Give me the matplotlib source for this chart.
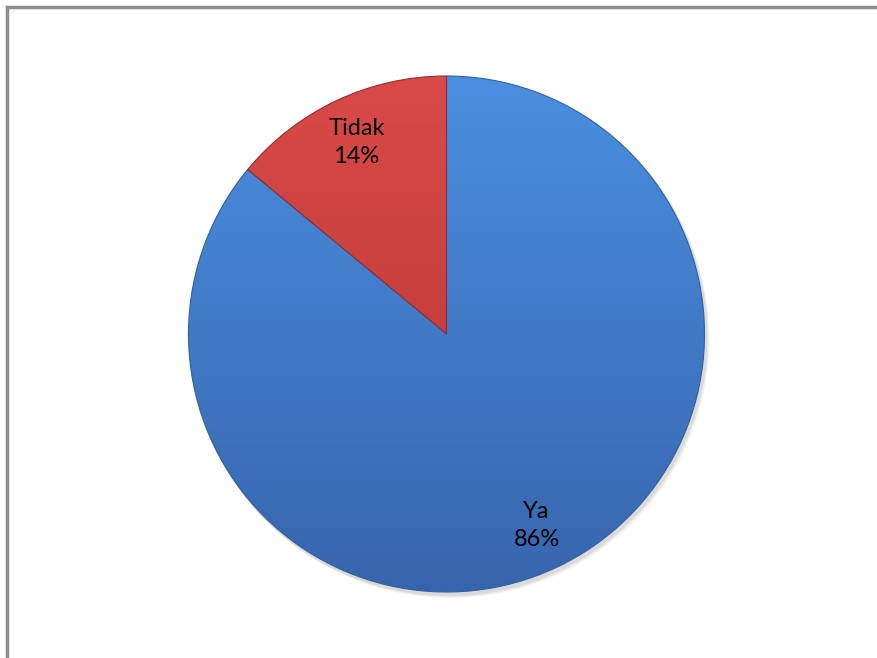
import numpy as np
import matplotlib
matplotlib.use('Agg')
import matplotlib.pyplot as plt
from matplotlib.patches import Circle, Rectangle
from matplotlib.colors import LinearSegmentedColormap

# survey answers
categories = ['Ya', 'Tidak']
values = [86, 14]

# top/bottom tones for each slice's gradient
slice_tops = ['#4a8fe0', '#d94a48']
slice_bottoms = ['#3765ad', '#b23432']
edge_colors = ['#30609f', '#9a2c2a']

W, H = 877, 658
fig = plt.figure(figsize=(W / 100, H / 100), dpi=100)
ax = fig.add_axes([0, 0, 1, 1])

cx, cy, r = 446.5, H - 334, 258

# soft shadow under the pie
for i, a in enumerate([0.06, 0.05, 0.04]):
    ax.add_patch(Circle((cx + 2 + i, cy - 3 - i), r + 1, color='black',
                        alpha=a, lw=0, zorder=1))

wedges, _ = ax.pie(values, startangle=90, counterclock=False,
                   center=(cx, cy), radius=r, frame=True,
                   wedgeprops=dict(linewidth=0.8))
ax.set_xlim(0, W)
ax.set_ylim(0, H)
ax.set_aspect('equal')
ax.axis('off')

grad = np.linspace(0, 1, 256).reshape(-1, 1)
for w, top, bot, ec in zip(wedges, slice_tops, slice_bottoms, edge_colors):
    w.set_facecolor('none')
    w.set_edgecolor(ec)
    w.set_zorder(3)
    cmap = LinearSegmentedColormap.from_list('g', [bot, top])
    im = ax.imshow(grad, cmap=cmap, extent=[cx - r, cx + r, cy - r, cy + r],
                   aspect='auto', origin='lower', zorder=2)
    im.set_clip_path(w)

# labels inside the slices
total = sum(values)
angle = 90
for name, v in zip(categories, values):
    span = 360 * v / total
    mid = np.deg2rad(angle - span / 2)
    angle -= span
    d = 0.82 * r
    ax.text(cx + d * np.cos(mid), cy + d * np.sin(mid), f"{name}\n{v}%",
            ha='center', va='center', fontsize=17, family='Lato',
            linespacing=1.45, color='black', zorder=5)

# outer frame
ax.add_patch(Rectangle((7, -10), W + 20, H - 7 + 10, fill=False,
                       edgecolor='#8c8c8c', lw=2.5, zorder=6))

fig.savefig('out.png', dpi=100)
